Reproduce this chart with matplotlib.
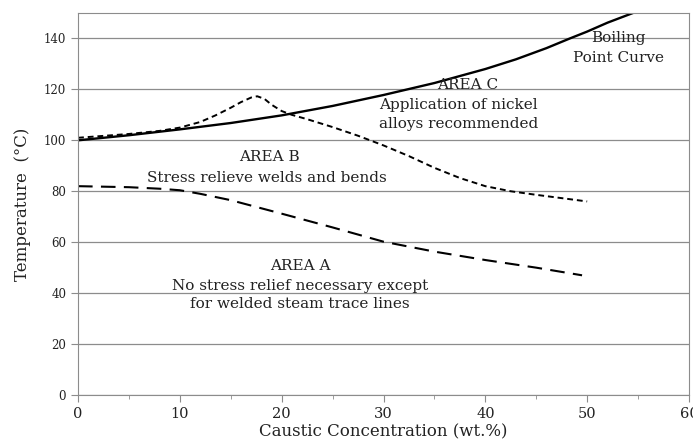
import matplotlib
matplotlib.use("Agg")
import matplotlib.pyplot as plt
from matplotlib.ticker import MultipleLocator

plt.rcParams["font.family"] = ["DejaVu Serif"]

# Boiling point curve
boil_x = [0, 5, 10, 15, 20, 25, 30, 35, 40, 43, 46, 48.3, 50, 52, 54.5, 55.5]
boil_y = [100, 102, 104.3, 106.8, 109.8, 113.5, 117.8, 122.5, 128, 131.8, 136.2, 140, 142.7, 146.2, 150, 152]

# Upper limit of area B (short dashes)
b_x = [0, 5, 8, 10, 12, 13.5, 15, 16, 17, 17.6, 18.3, 19, 20, 21, 22.5, 25, 27.5, 30,
       32.5, 35, 37.5, 40, 42.5, 45, 47.5, 50]
b_y = [101, 102.5, 103.7, 105, 107.2, 109.8, 112.8, 115, 116.8, 117.3, 116.3, 114, 111.5,
       110, 108.3, 105.2, 101.8, 98, 93.8, 89.2, 85.2, 82, 80, 78.6, 77.3, 76]

# Upper limit of area A (long dashes)
a_x = [0, 5, 8, 10, 12, 15, 20, 25, 30, 35, 40, 45, 49.5]
a_y = [82, 81.6, 81, 80.4, 79, 76.5, 71.2, 65.8, 60.2, 56.3, 53, 50, 47]

labels = [
    (38.3, 121.6, "AREA C"),
    (37.4, 113.8, "Application of nickel"),
    (37.4, 106.5, "alloys recommended"),
    (53.1, 140.0, "Boiling"),
    (53.1, 132.4, "Point Curve"),
    (18.8, 93.4, "AREA B"),
    (18.5, 85.3, "Stress relieve welds and bends"),
    (21.8, 50.6, "AREA A"),
    (21.8, 42.9, "No stress relief necessary except"),
    (21.8, 35.8, "for welded steam trace lines"),
]

fig = plt.figure(figsize=(6.93, 4.48), dpi=100)
ax = fig.add_axes([0.1126, 0.1183, 0.8816, 0.8527])

ax.plot(boil_x, boil_y, color="black", lw=1.7, solid_capstyle="butt")
ax.plot(b_x, b_y, color="black", lw=1.4, dashes=(3, 2))
ax.plot(a_x, a_y, color="black", lw=1.5, dashes=(7, 4))

for x, y, s in labels:
    ax.text(x, y, s, ha="center", va="center", fontsize=11, color="#222222")

ax.set_xlim(0, 60)
ax.set_ylim(0, 150)
ax.xaxis.set_major_locator(MultipleLocator(10))
ax.xaxis.set_minor_locator(MultipleLocator(5))
ax.yaxis.set_major_locator(MultipleLocator(20))
ax.grid(axis="y", color="#8c8c8c", lw=0.9)
ax.set_axisbelow(True)
for side in ["top", "right", "left", "bottom"]:
    ax.spines[side].set_color("#8c8c8c")
ax.tick_params(axis="x", which="both", direction="out", colors="#8c8c8c",
               labelcolor="#222222", labelsize=10.5, length=5)
ax.tick_params(axis="x", which="minor", length=3)
ax.tick_params(axis="y", direction="out", colors="#8c8c8c",
               labelcolor="#222222", labelsize=8.5, length=5)

ax.set_xlabel("Caustic Concentration (wt.%)", fontsize=12, color="#222222", labelpad=2)
ax.set_ylabel("Temperature  (°C)", fontsize=12, color="#222222", labelpad=9)

fig.savefig("out.png", dpi=100)
